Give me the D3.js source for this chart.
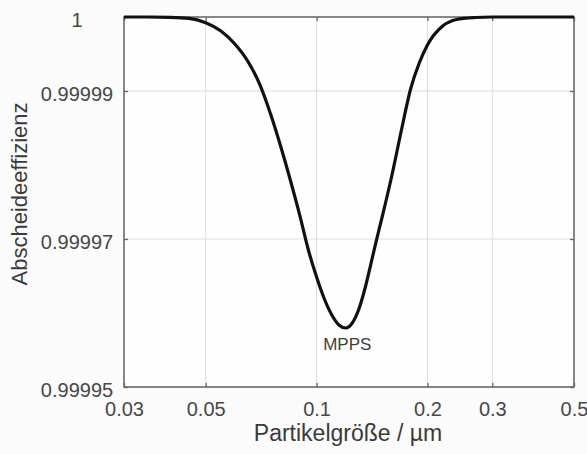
<!DOCTYPE html>
<html lang="de">
<head>
    <meta charset="UTF-8">
    <title>Abscheideeffizienz</title>
    <style>
        body {
            margin: 0;
            background: #fbfbfb;
        }
        svg text {
            font-family: "Liberation Sans", Arial, sans-serif;
        }
        .tick text {
            font-size: 20px;
            fill: #474747;
        }
        .axis-title {
            font-size: 22px;
            fill: #3a3a3a;
        }
    </style>
</head>
<body>
<div id="chart"></div>

<script src="https://d3js.org/d3.v7.min.js"></script>
<script>
    // Partikelgröße in µm und Abscheideeffizienz
    const sizes = [0.03, 0.035, 0.04, 0.045, 0.05, 0.055, 0.06, 0.065, 0.07, 0.075,
        0.08, 0.085, 0.09, 0.095, 0.1, 0.105, 0.11, 0.115, 0.12, 0.125,
        0.13, 0.135, 0.14, 0.145, 0.15, 0.16, 0.17, 0.18, 0.19, 0.2,
        0.22, 0.24, 0.27, 0.3, 0.4, 0.5];
    const efficiency = [1.0, 1.0, 0.99999996, 0.99999982, 0.99999923, 0.99999811, 0.99999635, 0.99999405, 0.99999095, 0.99998689,
        0.99998243, 0.99997784, 0.99997324, 0.99996851, 0.99996486, 0.99996189, 0.99995973, 0.99995838, 0.99995797, 0.99995865,
        0.99996041, 0.99996311, 0.99996635, 0.99996959, 0.99997257, 0.99997851, 0.99998473, 0.99999027, 0.99999378, 0.99999622,
        0.99999878, 0.99999966, 0.99999993, 1.0, 1.0, 1.0];

    const xTicks = [0.03, 0.05, 0.1, 0.2, 0.3, 0.5];
    const xTickLabels = ["0.03", "0.05", "0.1", "0.2", "0.3", "0.5"];
    const yTicks = [0.99995, 0.99997, 0.99999, 1];
    const yTickLabels = ["0.99995", "0.99997", "0.99999", "1"];

    const margin = { top: 17, right: 13, bottom: 67, left: 124 },
        width = 587 - margin.left - margin.right,
        height = 454 - margin.top - margin.bottom;

    const svg = d3.select("#chart").append("svg")
        .attr("width", width + margin.left + margin.right)
        .attr("height", height + margin.top + margin.bottom)
        .append("g")
        .attr("transform", `translate(${margin.left}, ${margin.top})`);

    const x = d3.scaleLog().domain([0.03, 0.5]).range([0, width]);
    const y = d3.scaleLinear().domain([0.99995, 1]).range([height, 0]);

    svg.append("rect")
        .attr("width", width)
        .attr("height", height)
        .attr("fill", "#fefefe");

    // Gitter
    svg.append("g")
        .selectAll("line")
        .data(xTicks.slice(1, -1))
        .join("line")
        .attr("x1", d => x(d)).attr("x2", d => x(d))
        .attr("y1", 0).attr("y2", height)
        .attr("stroke", "#dcdcdc");

    svg.append("g")
        .selectAll("line")
        .data(yTicks.slice(1, -1))
        .join("line")
        .attr("y1", d => y(d)).attr("y2", d => y(d))
        .attr("x1", 0).attr("x2", width)
        .attr("stroke", "#dcdcdc");

    // Achsen mit Ticks nach innen
    function styleAxis(g) {
        g.select(".domain").remove();
        g.selectAll(".tick line").attr("stroke", "#666").attr("stroke-width", 1.3);
    }

    const xAxis = svg.append("g")
        .attr("transform", `translate(0, ${height})`)
        .call(d3.axisBottom(x).tickValues(xTicks).tickSize(-4)
            .tickFormat((d, i) => xTickLabels[i]))
        .call(styleAxis);
    xAxis.selectAll(".tick text").attr("y", 29).attr("dy", 0);

    svg.append("g")
        .call(d3.axisTop(x).tickValues(xTicks).tickSize(-4).tickFormat(""))
        .call(styleAxis);

    const yAxis = svg.append("g")
        .call(d3.axisLeft(y).tickValues(yTicks).tickSize(-4)
            .tickFormat((d, i) => yTickLabels[i]))
        .call(styleAxis);
    yAxis.selectAll(".tick text")
        .attr("x", -47)
        .attr("dy", "0.45em")
        .attr("text-anchor", "middle");

    svg.append("g")
        .attr("transform", `translate(${width}, 0)`)
        .call(d3.axisRight(y).tickValues(yTicks).tickSize(-4).tickFormat(""))
        .call(styleAxis);

    // Rahmen
    svg.append("rect")
        .attr("width", width)
        .attr("height", height)
        .attr("fill", "none")
        .attr("stroke", "#6a6a6a")
        .attr("stroke-width", 1.6);

    const points = sizes.map((s, i) => ({ size: s, eff: efficiency[i] }));

    const line = d3.line()
        .x(d => x(d.size))
        .y(d => y(d.eff))
        .curve(d3.curveMonotoneX);

    svg.append("path")
        .datum(points)
        .attr("d", line)
        .attr("fill", "none")
        .attr("stroke", "#111")
        .attr("stroke-width", 3.2);

    // MPPS Beschriftung am Minimum
    const minPoint = points.reduce((a, b) => (b.eff < a.eff ? b : a));
    svg.append("text")
        .attr("x", x(minPoint.size) + 1.5)
        .attr("y", y(minPoint.eff) + 22)
        .attr("text-anchor", "middle")
        .attr("font-size", "17px")
        .attr("fill", "#3c4036")
        .text("MPPS");

    svg.append("text")
        .attr("class", "axis-title")
        .attr("x", width / 2 - 1)
        .attr("y", height + 54)
        .attr("text-anchor", "middle")
        .style("font-size", "23px")
        .text("Partikelgröße / µm");

    svg.append("text")
        .attr("class", "axis-title")
        .attr("transform", `translate(-97, ${height / 2 - 8}) rotate(-90)`)
        .attr("text-anchor", "middle")
        .text("Abscheideeffizienz");
</script>
</body>
</html>
